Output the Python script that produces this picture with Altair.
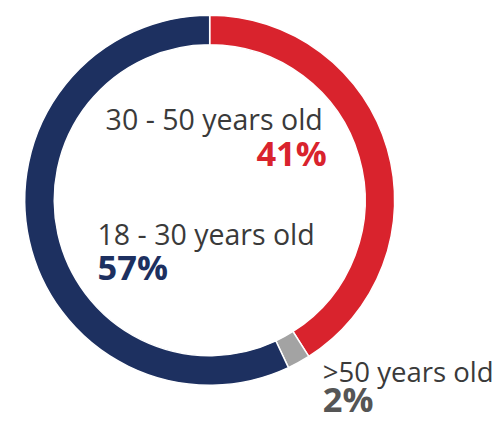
import altair as alt
import pandas as pd

groups = ["30 - 50 years old", ">50 years old", "18 - 30 years old"]
shares = [41, 2, 57]
pct_labels = ["41%", "2%", "57%"]
colors = ["#d9232d", "#a3a3a3", "#1d3060"]

df = pd.DataFrame({"group": groups, "share": shares, "order": [0, 1, 2], "pct": pct_labels})

CX, CY = 205, 192

ring = alt.Chart(df).mark_arc(radius=188, radius2=158, stroke="white", strokeWidth=1.5).encode(
    theta=alt.Theta("share:Q", stack=True),
    order=alt.Order("order:Q"),
    color=alt.Color("group:N", scale=alt.Scale(domain=groups, range=colors), legend=None),
    x=alt.value(CX),
    y=alt.value(CY),
)

def label(i, x, y, align, size=29):
    d = df.iloc[[i]]
    return alt.Chart(d).mark_text(font="Open Sans", fontSize=size, color="#3a3a3a", align=align, baseline="alphabetic").encode(
        text="group:N", x=alt.value(x), y=alt.value(y))

def pct(i, x, y, align, color):
    d = df.iloc[[i]]
    return alt.Chart(d).mark_text(font="Open Sans", fontSize=35, fontWeight="bold", color=color, align=align, baseline="alphabetic").encode(
        text="pct:N", x=alt.value(x), y=alt.value(y))

chart = alt.layer(
    ring,
    label(0, 320, 121, "right"),
    pct(0, 324, 157, "right", "#d9232d"),
    label(2, 91, 237, "left"),
    pct(2, 91, 273, "left", "#1d3060"),
    label(1, 320, 377, "left", 28),
    pct(1, 320, 407, "left", "#555555"),
).properties(width=495, height=414, autosize=alt.AutoSizeParams(type="none"), padding=0).configure_view(stroke=None)

chart.save("out.html", embed_options={"renderer": "svg", "actions": False})
